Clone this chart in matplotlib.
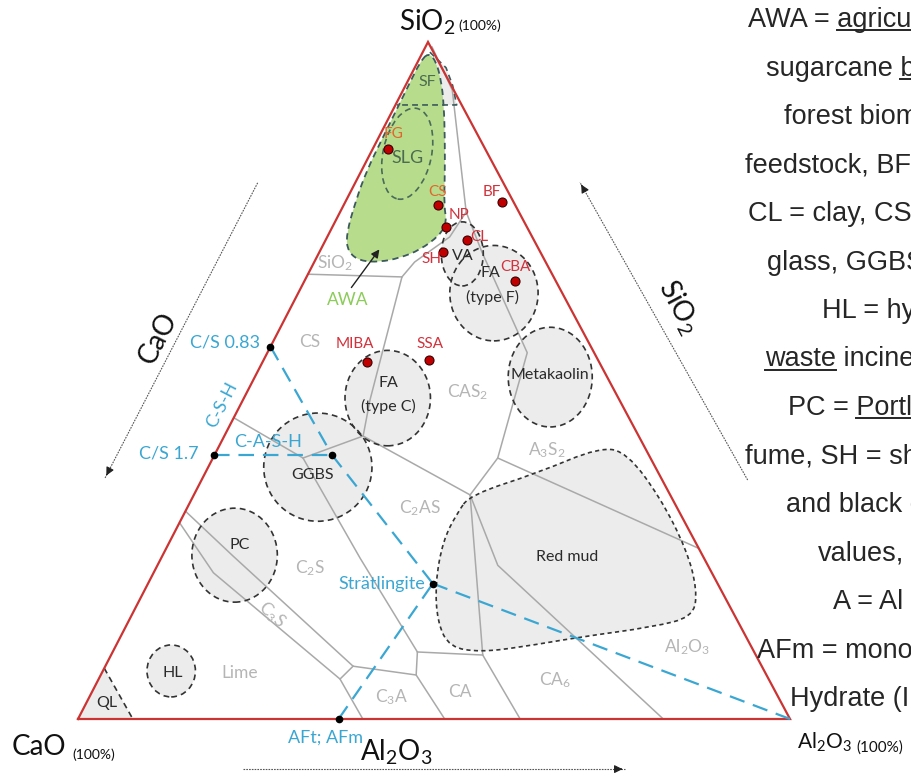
import numpy as np
import matplotlib
matplotlib.use("Agg")
import matplotlib.pyplot as plt
from matplotlib.lines import Line2D
from matplotlib.patches import Ellipse, PathPatch, Polygon
from matplotlib.path import Path
from matplotlib.transforms import IdentityTransform

plt.rcParams["font.family"] = ["Lato", "DejaVu Sans"]
plt.rcParams["mathtext.fontset"] = "custom"
plt.rcParams["mathtext.rm"] = "Lato"
plt.rcParams["mathtext.default"] = "regular"

# all compositions are wt% given as (SiO2, Al2O3); CaO is the balance

# raw materials (red dots)
material_names = ["FG", "CS", "BF", "NP", "CL", "SH", "CBA", "MIBA", "SSA"]
material_sio2 = [84.2, 75.9, 76.4, 72.7, 70.7, 69.0, 64.7, 52.7, 53.1]
material_al2o3 = [2.1, 13.2, 22.0, 16.0, 19.9, 17.3, 29.6, 14.7, 23.2]

# material fields drawn as dashed ellipses
field_names = ["SLG", "VA", "FA type F", "Metakaolin", "FA type C", "GGBS", "PC", "HL"]
field_sio2 = [83.5, 68.7, 62.9, 50.5, 47.4, 37.2, 24.2, 7.1]
field_al2o3 = [5.2, 20.2, 27.5, 41.5, 20.2, 15.4, 10.1, 9.6]

# agricultural waste ash field (outline)
awa_sio2 = [98.4, 97.3, 94.4, 90.7, 85.5, 80.4, 75.9, 73.4, 71.5, 69.3, 68.1,
            67.5, 67.65, 69.0, 71.5, 76.7, 81.1, 85.5, 90.0, 94.1, 97.0]
awa_al2o3 = [0.8, 2.4, 4.6, 6.8, 9.5, 12.0, 14.1, 15.7, 15.7, 14.0, 11.7,
             9.2, 6.35, 4.0, 2.5, 1.35, 0.73, 0.6, 0.5, 0.4, 0.35]

# silica fume cap
sf_sio2 = [98.5, 96.2, 93.6, 90.7, 90.7, 94.4, 97.3]
sf_al2o3 = [1.0, 4.4, 6.6, 8.6, 6.8, 4.6, 2.4]

# red mud field (outline)
redmud_sio2 = [33.1, 36.3, 40.2, 39.3, 32.8, 25.0, 19.05, 15.1, 13.6, 12.1,
               10.6, 9.9, 10.6, 14.2, 20.1, 26.4, 30.4]
redmud_al2o3 = [38.8, 46.6, 53.6, 57.8, 65.6, 73.2, 77.6, 79.0, 74.1, 64.5,
                56.9, 51.6, 47.0, 43.5, 40.3, 38.3, 38.3]

# quicklime corner
ql_sio2 = [0, 7.5, 0]
ql_al2o3 = [0, 0, 7.7]

# phase-field boundaries of the CaO-SiO2-Al2O3 system
boundaries = [
    [(65.7, 0), (65.3, 13.4)],
    [(65.3, 13.4), (67.5, 14.1), (69.3, 15.6), (71.2, 17.2), (74.9, 17.7)],
    [(99.3, 0.9), (92.9, 6.9), (74.9, 17.7), (69.0, 22.8), (54.1, 36.5),
     (38.55, 40.0), (33.1, 38.8)],
    [(38.55, 40.0), (25.2, 74.8)],
    [(65.3, 13.4), (47.1, 17.85), (41.8, 19.5)],
    [(41.8, 19.5), (33.1, 38.8)],
    [(41.8, 19.5), (38.55, 12.65)],
    [(44.5, 0), (38.55, 12.65)],
    [(38.55, 12.65), (23.8, 27.9), (9.9, 42.8)],
    [(9.9, 42.8), (9.45, 52.2)],
    [(9.45, 52.2), (33.1, 38.8)],
    [(9.45, 52.2), (0, 62.1)],
    [(33.1, 38.8), (22.7, 47.8), (0, 82.2)],
    [(9.9, 42.8), (6.5, 44.3), (0, 51.5)],
    [(6.5, 44.3), (7.8, 34.8)],
    [(30.7, 0), (24.1, 9.9), (7.8, 34.8)],
    [(7.8, 34.8), (5.9, 33.9), (0, 40.0)],
    [(29.0, 0), (21.6, 8.4), (5.9, 33.9)],
]

phase_labels = ["SiO$_2$", "CS", "CAS$_2$", "A$_3$S$_2$", "C$_2$AS", "C$_2$S",
                "C$_3$S", "Lime", "C$_3$A", "CA", "CA$_6$", "Al$_2$O$_3$"]
phase_sio2 = [67.4, 55.7, 48.3, 39.7, 31.2, 22.3, 15.4, 6.8, 3.25, 4.0, 5.8, 10.6]
phase_al2o3 = [3.0, 5.2, 31.0, 46.3, 32.7, 21.6, 19.7, 19.4, 42.5, 51.7, 64.2, 80.3]

# hydrate compositions (blue)
hydrate_names = ["C/S 0.83", "C/S 1.7", "C-A-S-H", "Strätlingite", "AFt; AFm"]
hydrate_sio2 = [55.0, 39.0, 39.0, 20.0, 0.0]
hydrate_al2o3 = [0.0, 0.0, 16.5, 40.0, 36.6]

field_labels = ["SF", "SLG", "VA", "FA", "(type F)", "Metakaolin", "FA", "(type C)",
                "GGBS", "PC", "HL", "QL", "Red mud"]
field_label_sio2 = [94.1, 82.9, 68.4, 65.9, 62.2, 50.8, 49.6, 46.1, 36.0, 25.7, 6.8, 2.4, 23.9]
field_label_al2o3 = [2.8, 5.5, 20.4, 25.5, 27.6, 41.3, 19.2, 20.9, 15.3, 10.1, 9.9, 2.8, 56.9]

notes = ["AWA = agricultural", "sugarcane bagasse", "forest biomass",
         "feedstock, BF = b", "CL = clay, CS = c", "glass, GGBS = g",
         "HL = hydraulic", "waste incineration", "PC = Portland",
         "fume, SH = shale", "and black circles", "values,", "A = Al",
         "AFm = monosulfate", "Hydrate (I"]
notes_underlined = ["agricultural", "bagasse", None, None, None, None, None,
                    "waste", "Portland", None, None, None, None, None, None]
notes_left = [748, 766, 784, 745, 748, 767, 822, 765, 788, 745, 786, 818, 833, 757, 790]

W, H = 911, 776
APEX = 350 / 712
TALL = 677 / 712


def tern(sio2, al2o3):
    s = np.asarray(sio2, float) / 100
    a = np.asarray(al2o3, float) / 100
    return a + APEX * s, TALL * s


def closed_curve(sio2, al2o3, **kw):
    x, y = tern(sio2, al2o3)
    p = np.column_stack([x, y])
    mids = (p + np.roll(p, -1, axis=0)) / 2
    verts = [mids[-1]]
    codes = [Path.MOVETO]
    for i in range(len(p)):
        verts += [p[i], mids[i]]
        codes += [Path.CURVE3, Path.CURVE3]
    return PathPatch(Path(verts, codes), **kw)


fig = plt.figure(figsize=(W / 100, H / 100), dpi=100)
ax = fig.add_axes([0, 0, 1, 1])
ax.set_xlim(-78 / 712, (W - 78) / 712)
ax.set_ylim(-57 / 712, (H - 57) / 712)
ax.axis("off")

grey_fill = "#ececec"
dash_col = "#333333"
dash = (0, (3.5, 2.5))
blue = "#3aa7d3"
red_txt = "#d2323c"

# fields
ax.add_patch(closed_curve(awa_sio2, awa_al2o3, fc="#b6dc8c", ec="none", zorder=1))
ax.add_patch(Polygon(np.column_stack(tern(sf_sio2, sf_al2o3)), fc=grey_fill, ec="none", zorder=1))
spread_x = [3.4, 2.95, 6.2, 5.9, 6.0, 7.6, 6.0, 3.4]
spread_y = [6.5, 4.5, 6.7, 7.0, 6.7, 7.6, 6.6, 3.65]
tilt = [-12, 0, 0, 0, 0, 0, 0, 0]
for s, a, rx, ry, ang, name in zip(field_sio2, field_al2o3, spread_x, spread_y, tilt, field_names):
    c = tern(s, a)
    fc = "none" if name == "SLG" else grey_fill
    ax.add_patch(Ellipse(c, 2 * rx / 100, 2 * ry / 100, angle=ang, fc=fc, ec="none", zorder=1))
    ax.add_patch(Ellipse(c, 2 * rx / 100, 2 * ry / 100, angle=ang, fill=False,
                         ec="#4a6a5a" if name == "SLG" else dash_col,
                         lw=1.2, ls=dash, zorder=4))
ax.add_patch(closed_curve(redmud_sio2, redmud_al2o3, fc=grey_fill, ec="none", zorder=1))
ax.add_patch(closed_curve(redmud_sio2, redmud_al2o3, fill=False, ec=dash_col, lw=1.2,
                          ls=(0, (2.5, 2)), zorder=4))
ax.add_patch(Polygon(np.column_stack(tern(ql_sio2, ql_al2o3)), fc=grey_fill, ec="none", zorder=1))

# phase boundaries
for line in boundaries:
    s, a = zip(*line)
    ax.plot(*tern(s, a), color="#a9a9a9", lw=1.1, zorder=2, solid_capstyle="round")

for lab, s, a in zip(phase_labels, phase_sio2, phase_al2o3):
    ax.text(*tern(s, a), lab, color="#b5b5b5", fontsize=12.5, ha="center", va="center",
            rotation=-42 if lab == "C$_3$S" else 0, zorder=3)

# dashed outlines on top of the boundaries
ax.add_patch(closed_curve(awa_sio2, awa_al2o3, fill=False, ec="#3c5a5c", lw=1.3, ls=dash, zorder=4))
ax.plot(*tern(sf_sio2[:4] + [90.7], sf_al2o3[:4] + [0.2]), color="#3c5a5c", lw=1.2, ls=dash, zorder=4)
ax.plot(*tern(ql_sio2[1:] + [0], ql_al2o3[1:] + [0]), color=dash_col, lw=1.2, ls=dash, zorder=4)

# ternary frame
ax.plot(*tern([0, 0, 100, 0], [0, 100, 0, 0]), color="#cc3333", lw=1.6, zorder=5,
        solid_joinstyle="miter")

# hydrate tie lines
hx, hy = tern(hydrate_sio2 + [0], hydrate_al2o3 + [100])
for i, j in [(0, 2), (1, 2), (2, 3), (3, 5), (4, 3)]:
    ax.plot([hx[i], hx[j]], [hy[i], hy[j]], color=blue, lw=1.6, dashes=(7, 4), zorder=5)
ax.plot(hx[:5], hy[:5], "o", color="black", ms=4.5, zorder=6)
blue_offsets = [(-10, 4, "right"), (-16, 1, "right"), (-64, 13, "center"),
                (-8, 0, "right"), (-13, -19, "center")]
for i, (dx, dy, ha) in enumerate(blue_offsets):
    ax.annotate(hydrate_names[i], (hx[i], hy[i]), xytext=(dx, dy), textcoords="offset pixels",
                color=blue, fontsize=13, ha=ha, va="center", zorder=7)
ax.text(*tern(46.4, -2.6), "C-S-H", color=blue, fontsize=13, rotation=62.7,
        ha="center", va="center", zorder=7)

# raw materials
mx, my = tern(material_sio2, material_al2o3)
ax.plot(mx, my, "o", mfc="#c00000", mec="#3a0000", mew=0.8, ms=6.5, zorder=6)
label_offsets = [(6, 15), (0, 13), (-10, 10), (13, 12), (12, 3), (-11, -7), (0, 14), (-12, 18), (1, 16)]
for name, x, y, (dx, dy) in zip(material_names, mx, my, label_offsets):
    col = "#e0662e" if name in ("FG", "CS") else red_txt
    ax.annotate(name, (x, y), xytext=(dx, dy), textcoords="offset pixels", color=col,
                fontsize=11, ha="center", va="center", zorder=7)

for lab, s, a in zip(field_labels, field_label_sio2, field_label_al2o3):
    col = "#4d6b50" if lab in ("SF", "SLG") else "#2a2a2a"
    ax.text(*tern(s, a), lab, color=col, fontsize=11.5 if lab != "SLG" else 13,
            ha="center", va="center", zorder=7)

# AWA pointer
ax.annotate("", xy=tern(69.7, 8.3), xytext=tern(63.4, 7.0),
            arrowprops=dict(arrowstyle="-|>", color="#222222", lw=1.0, mutation_scale=12), zorder=7)
ax.text(*tern(61.9, 7.4), "AWA", color="#8ccc5a", fontsize=12.5, ha="center", va="center", zorder=7)

# corner labels
big = 20
corner_sio2 = [100, 0, 0]
corner_al2o3 = [0, 0, 100]
cx, cy = tern(corner_sio2, corner_al2o3)
ax.annotate("SiO$_2$", (cx[0], cy[0]), xytext=(27, 12), textcoords="offset pixels",
            fontsize=big, ha="right", va="baseline", color="#111111")
ax.annotate("(100%)", (cx[0], cy[0]), xytext=(30, 12), textcoords="offset pixels",
            fontsize=10, ha="left", va="baseline", color="#111111")
ax.annotate("CaO", (cx[1], cy[1]), xytext=(-66, -36), textcoords="offset pixels",
            fontsize=big, ha="left", va="baseline", color="#111111")
ax.annotate("(100%)", (cx[1], cy[1]), xytext=(-6, -40), textcoords="offset pixels",
            fontsize=10, ha="left", va="baseline", color="#111111")
ax.annotate("Al$_2$O$_3$", (cx[2], cy[2]), xytext=(7, -30), textcoords="offset pixels",
            fontsize=15, ha="left", va="baseline", color="#111111")
ax.annotate("(100%)", (cx[2], cy[2]), xytext=(66, -33), textcoords="offset pixels",
            fontsize=11, ha="left", va="baseline", color="#111111")

# component axes with direction arrows
axis_col = "#555555"
for (s0, a0), (s1, a1) in [((79.2, -13.7), (35.6, -13.7)),
                           ((35.3, 76.7), (79.3, 31.5)),
                           ((-7.4, 26.8), (-7.4, 80.5))]:
    x, y = tern([s0, s1], [a0, a1])
    ax.plot(x, y, color=axis_col, lw=0.8, ls=(0, (1.5, 1)))
    ax.annotate("", xy=(x[1], y[1]), xytext=(x[1] - 0.02 * (x[1] - x[0]), y[1] - 0.02 * (y[1] - y[0])),
                arrowprops=dict(arrowstyle="-|>", color="#222222", lw=0.8, mutation_scale=12))
ax.text(*tern(56.3, -16.4), "CaO", fontsize=big, rotation=62.7, ha="center", va="center", color="#111111")
ax.text(*tern(60.9, 54.3), "SiO$_2$", fontsize=big, rotation=-62, ha="center", va="center", color="#111111")
ax.text(*tern(-4.9, 47.1), "Al$_2$O$_3$", fontsize=big, ha="center", va="center", color="#111111")

# abbreviations column
renderer = fig.canvas.get_renderer()
note_font = dict(family=["Liberation Sans", "DejaVu Sans"], size=19.5, color="#262626")
for i, (txt, word, left) in enumerate(zip(notes, notes_underlined, notes_left)):
    base = 27 + 48.5 * i
    pos = (left / W, 1 - base / H)
    t = fig.text(*pos, txt, ha="left", va="baseline", **note_font)
    if word:
        end = txt.index(word) + len(word)
        probe = fig.text(*pos, txt[:end], ha="left", va="baseline", **note_font)
        probe_w = fig.text(*pos, word, ha="left", va="baseline", **note_font)
        x1 = probe.get_window_extent(renderer).x1
        w = probe_w.get_window_extent(renderer).width
        probe.remove()
        probe_w.remove()
        yb = fig.transFigure.transform(pos)[1] - 3
        fig.add_artist(Line2D([x1 - w, x1], [yb, yb], transform=IdentityTransform(),
                              color="#262626", lw=1.4))

fig.savefig("out.png", dpi=100)
